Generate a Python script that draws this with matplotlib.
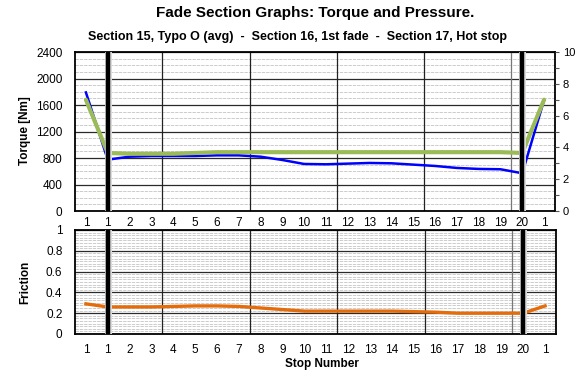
import numpy as np
import matplotlib
matplotlib.use("Agg")
import matplotlib.pyplot as plt
import matplotlib.patheffects as pe
from matplotlib.ticker import MultipleLocator

plt.rcParams['font.family'] = ['Liberation Sans', 'DejaVu Sans']

# ---- data ----
stop_labels = ["1", "1", "2", "3", "4", "5", "6", "7", "8", "9", "10", "11",
               "12", "13", "14", "15", "16", "17", "18", "19", "20", "1"]
torque = [1790, 775, 820, 830, 830, 830, 840, 840, 820, 770, 710, 705,
          715, 725, 720, 700, 680, 650, 635, 630, 570, 1675]
pressure = [7.0, 3.65, 3.6, 3.6, 3.6, 3.65, 3.7, 3.7, 3.7, 3.7, 3.7, 3.7,
            3.7, 3.7, 3.7, 3.7, 3.7, 3.7, 3.7, 3.7, 3.65, 7.0]
friction = [0.29, 0.26, 0.26, 0.26, 0.265, 0.27, 0.27, 0.265, 0.25, 0.235, 0.22, 0.22,
            0.22, 0.22, 0.22, 0.215, 0.21, 0.20, 0.20, 0.20, 0.20, 0.27]
section_breaks = [1, 20]
group_bounds = [3.5, 7.5, 11.5, 15.5, 19.5]

W, H = 576, 372
fig = plt.figure(figsize=(W / 100, H / 100), dpi=100)
ax1 = fig.add_axes([75 / W, 1 - 211 / H, (555 - 75) / W, (211 - 52) / H])
ax2 = fig.add_axes([75 / W, 1 - 334 / H, (556 - 75) / W, (334 - 230) / H])

x = np.arange(len(stop_labels))
tick_fs = 8.5


def style_grid(ax, major, minor):
    ax.yaxis.set_major_locator(MultipleLocator(major))
    ax.yaxis.set_minor_locator(MultipleLocator(minor))
    ax.grid(False)
    ax.grid(True, which='minor', axis='y', color='#c4c4c4', lw=0.6,
            linestyle=(0, (4, 1.2)))
    ax.grid(True, which='major', axis='y', color='#2a2a2a', lw=0.9)
    for b in group_bounds:
        ax.axvline(b, color='#222222' if b != 19.5 else '#777777', lw=0.9, zorder=1.5)
    ax.set_axisbelow(True)
    ax.set_xlim(-0.5, len(stop_labels) - 0.5)
    ax.set_xticks(x)
    ax.set_xticklabels(stop_labels, fontsize=tick_fs)
    ax.tick_params(axis='both', which='both', length=0, labelsize=tick_fs)
    ax.tick_params(axis='y', pad=9)
    for s in ax.spines.values():
        s.set_linewidth(1.3)
        s.set_color('black')


# top panel
style_grid(ax1, 400, 100)
ax1.set_ylim(0, 2400)
ax1.tick_params(axis='x', pad=4)
ax1.plot(x, torque, color='#0000ff', lw=1.8, zorder=3)

ax1r = ax1.twinx()
ax1r.set_ylim(0, 10)
ax1r.yaxis.set_major_locator(MultipleLocator(2))
ax1r.yaxis.set_minor_locator(MultipleLocator(1))
ax1r.tick_params(axis='y', which='major', length=3, width=0.8, color='#555555',
                 labelsize=8, pad=2.5)
ax1r.tick_params(axis='y', which='minor', length=3, width=0.8, color='#555555')
for s in ax1r.spines.values():
    s.set_visible(False)
ax1r.plot(x, pressure, color='#9bbb59', lw=3.0, zorder=3,
          solid_capstyle='round')
for b in section_breaks:
    ax1r.axvline(b, color='black', lw=3.2, zorder=5,
                 path_effects=[pe.Stroke(linewidth=5.0, foreground='#dcdcdc'), pe.Normal()])

# bottom panel
style_grid(ax2, 0.2, 0.025)
ax2.set_ylim(0, 1)
ax2.set_yticks([0, 0.2, 0.4, 0.6, 0.8, 1])
ax2.set_yticklabels(["0", "0.2", "0.4", "0.6", "0.8", "1"])
ax2.tick_params(axis='x', pad=7)
ax2.plot(x, friction, color='#e46c0a', lw=2.4, zorder=3)
for b in section_breaks:
    ax2.axvline(b, color='black', lw=3.2, zorder=5,
                path_effects=[pe.Stroke(linewidth=5.0, foreground='#dcdcdc'), pe.Normal()])

# texts
fig.text(315 / W, 1 - 13 / H, "Fade Section Graphs: Torque and Pressure.",
         ha='center', va='center', fontsize=11, fontweight='bold')
fig.text(298 / W, 1 - 37 / H,
         "Section 15, Typo O (avg)  -  Section 16, 1st fade  -  Section 17, Hot stop",
         ha='center', va='center', fontsize=9, fontweight='bold')
fig.text(25 / W, 1 - 131 / H, "Torque [Nm]", rotation=90, ha='center', va='center',
         fontsize=8.5, fontweight='bold')
fig.text(25 / W, 1 - 282 / H, "Friction", rotation=90, ha='center', va='center',
         fontsize=8.5, fontweight='bold')
fig.text(322 / W, 1 - 364 / H, "Stop Number", ha='center', va='center',
         fontsize=8.5, fontweight='bold')

fig.savefig("out.png", dpi=100)
